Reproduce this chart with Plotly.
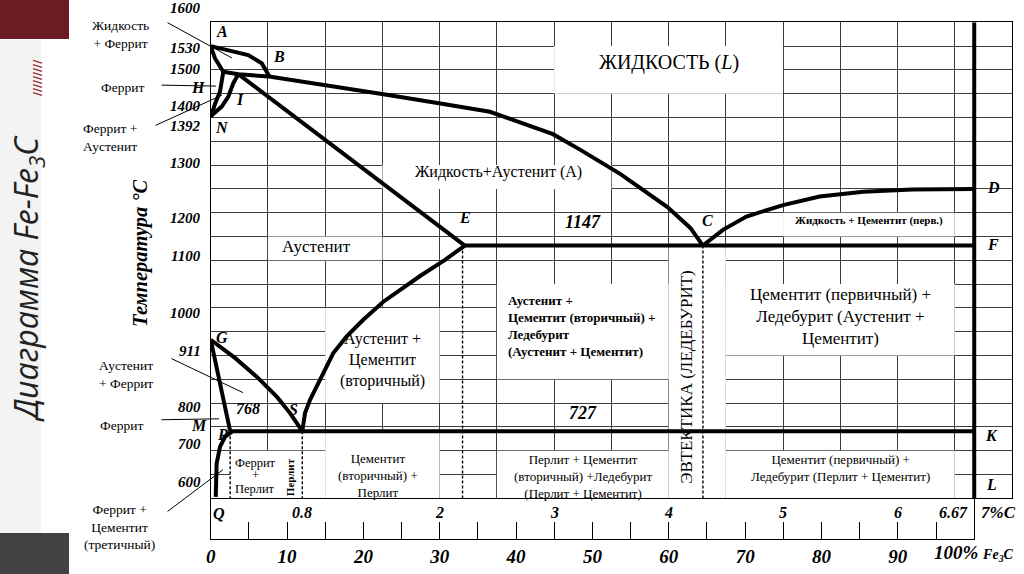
import plotly.graph_objects as go

W, H = 1024, 574

# ---------------- phase-boundary data: carbon content (%C) and temperature (°C) ----------------
ab_c = [0.0, 0.154, 0.328, 0.446, 0.51]
ab_t = [1550, 1542, 1531, 1514, 1487]
ah_c = [0.0, 0.038, 0.11]
ah_t = [1550, 1524, 1496]
hbc_c = [0.11, 0.241, 0.51, 1.02, 1.51, 2.02, 2.44, 2.99, 3.23, 3.58, 3.99, 4.19, 4.3]
hbc_t = [1496, 1491, 1486, 1468, 1449, 1429, 1412, 1365, 1332, 1281, 1212, 1168, 1131]
hn_c = [0.11, 0.096, 0.081, 0.04, 0.0]
hn_t = [1496, 1479, 1454, 1430, 1401]
jn_c = [0.241, 0.197, 0.154, 0.096, 0.01, 0.0]
jn_t = [1491, 1472, 1444, 1423, 1405, 1401]
je_c = [0.241, 2.22]
je_t = [1491, 1131]
ecf_c = [2.22, 6.67]
ecf_t = [1131, 1131]
cd_c = [4.3, 4.475, 4.68, 5.0, 5.32, 5.7, 6.13, 6.67]
cd_t = [1131, 1164, 1192, 1216, 1234, 1244, 1249, 1250]
gs_c = [0.0, 0.212, 0.404, 0.579, 0.693, 0.8]
gs_t = [933, 895, 855, 813, 779, 741]
gp_c = [0.0, 0.17]
gp_t = [933, 741]
pq_c = [0.197, 0.125, 0.081, 0.052, 0.044]
pq_t = [742, 729, 708, 673, 603]
es_c = [0.8, 0.824, 0.868, 0.926, 0.984, 1.071, 1.188, 1.333, 1.508, 1.829, 2.047, 2.22]
es_t = [741, 779, 807, 835, 863, 905, 940, 975, 1013, 1067, 1101, 1131]
psk_c = [0.17, 6.67]
psk_t = [741, 741]
fe3c_c = [6.67, 6.67]
fe3c_t = [590, 1600]
dash_c = [0.17, 0.8, 2.2, 4.3]
dash_top = [741, 741, 1131, 1131]

# ---------------- axis labels ----------------
temp_ticks = [1600, 1530, 1500, 1400, 1392, 1300, 1200, 1100, 1000, 911, 800, 700, 600]
c_ticks = [0.8, 2, 3, 4, 5, 6, 6.67]
c_text = ["0.8", "2", "3", "4", "5", "6", "6.67"]
fe3c_ticks = [0, 10, 20, 30, 40, 50, 60, 70, 80, 90, 100]
fe3c_text = ["0", "10", "20", "30", "40", "50", "60", "70", "80", "90", ""]

# label pixel offsets (style only)
temp_shift = [14, 8, 1, 12, -5, 2, -5, 4, -5, -1, -4, 7, 16]

SERIF = "Liberation Serif"
fig = go.Figure()

X0, X1 = 210.7 / W, 1012 / W
Y0, Y1 = 1 - 498.3 / H, 1 - 22.3 / H
BAND0 = 1 - 539 / H
C_MAX, T_MIN, T_MAX = 7.0, 600.0, 1600.0

thick = [(ab_c, ab_t), (ah_c, ah_t), (hbc_c, hbc_t), (hn_c, hn_t), (jn_c, jn_t),
         (je_c, je_t), (ecf_c, ecf_t), (cd_c, cd_t), (gs_c, gs_t), (gp_c, gp_t),
         (pq_c, pq_t), (es_c, es_t), (psk_c, psk_t), (fe3c_c, fe3c_t)]
for cx, ty in thick:
    fig.add_trace(go.Scatter(x=cx, y=ty, mode="lines", line=dict(color="black", width=4),
                             hoverinfo="skip", showlegend=False, xaxis="x", yaxis="y"))
for c, top in zip(dash_c, dash_top):
    fig.add_trace(go.Scatter(x=[c, c], y=[top, 600], mode="lines",
                             line=dict(color="black", width=1.4, dash="3px,2px"),
                             hoverinfo="skip", showlegend=False))

fig.add_trace(go.Scatter(x=[0, 100], y=[0, 0], mode="lines", line=dict(width=0),
                         hoverinfo="skip", showlegend=False, xaxis="x2", yaxis="y2"))

shapes = []
boxes = [(3.0, 5.0, 1450, 1550), (1.5, 3.5, 1250, 1300), (5.0, 6.5, 1150, 1200),
         (0.5, 1.5, 1100, 1150),
         (2.5, 4.0, 850, 1050), (1.0, 2.0, 800, 1000), (4.0, 4.5, 600, 1131),
         (4.5, 6.5, 900, 1050), (4.5, 6.5, 600, 700), (2.5, 4.0, 600, 700),
         (1.0, 2.0, 600, 741), (0.17, 1.0, 600, 700)]
for c0, c1, t0, t1 in boxes:
    shapes.append(dict(type="rect", xref="x", yref="y", x0=c0, x1=c1, y0=t0, y1=t1,
                       fillcolor="white", line=dict(width=0), layer="between"))
shapes += [
    dict(type="rect", xref="paper", yref="paper", x0=0, x1=41 / W, y0=0.07, y1=0.93,
         fillcolor="#f3f3f3", line=dict(width=0), layer="below"),
    dict(type="rect", xref="paper", yref="paper", x0=0, x1=69 / W, y0=1 - 39 / H, y1=1,
         fillcolor="#6b1b21", line=dict(width=0), layer="below"),
    dict(type="rect", xref="paper", yref="paper", x0=0, x1=69 / W, y0=0, y1=1 - 533 / H,
         fillcolor="#424242", line=dict(width=0), layer="below"),
]

ann = []

def txt(x, y, s, size, bold=False, italic=False, angle=0, xa="center", ya="middle",
        align="center", xs=0, ys=0, xref="x", yref="y", family=SERIF, color="black"):
    # labels lying outside the diagram's ranges are placed in paper units
    if xref == "x" and not (0 <= x <= C_MAX):
        x, xref = X0 + x / C_MAX * (X1 - X0), "paper"
    if yref == "y" and not (T_MIN <= y <= T_MAX):
        y, yref = Y0 + (y - T_MIN) / (T_MAX - T_MIN) * (Y1 - Y0), "paper"
    ann.append(dict(x=x, y=y, text=s, showarrow=False, xref=xref, yref=yref,
                    xanchor=xa, yanchor=ya, align=align, textangle=angle,
                    xshift=xs, yshift=ys,
                    font=dict(family=family, size=size, color=color,
                              weight="bold" if bold else "normal",
                              style="italic" if italic else "normal")))

for t, sh in zip(temp_ticks, temp_shift):
    txt(0, t, str(t), 15, bold=True, italic=True, xa="right", xs=-8, ys=sh)
for c, s in zip(c_ticks, c_text):
    if s == "6.67":
        txt(c, 0.64, s, 16, True, True, xa="right", xs=-4, yref="y2")
    else:
        txt(c, 0.64, s, 16, True, True, yref="y2")
txt(6.88, 0.64, "7%C", 17, True, True, yref="y2")
txt(6.67, 0.64, "100% <span style='font-size:14px'>Fe<sub>3</sub>C</span>", 19, True, True,
    yref="y2", ys=-40)

for s, c, t in [("A", 0.1, 1580), ("B", 0.6, 1529), ("H", -0.11, 1462), ("I", 0.256, 1437),
                ("N", 0.1, 1378), ("G", 0.1, 937), ("P", 0.1, 733), ("S", 0.72, 786),
                ("M", -0.1, 752), ("Q", 0.073, 569), ("E", 2.22, 1189), ("C", 4.34, 1183),
                ("D", 6.834, 1252), ("F", 6.834, 1133), ("K", 6.82, 731), ("L", 6.82, 628)]:
    txt(c, t, s, 16, True, True)
txt(0.326, 788, "768", 16, True, True)
txt(3.25, 1181, "1147", 18, True, True)
txt(3.25, 779, "727", 18, True, True)

txt(4.0, 1516, "ЖИДКОСТЬ (<i>L</i>)", 20)
txt(2.51, 1286, "Жидкость+Аустенит (А)", 16)
txt(0.92, 1130, "Аустенит", 17)
txt(5.75, 1183, "Жидкость + Цементит (перв.)", 11, bold=True)
txt(2.58, 961, "Аустенит +<br>Цементит (вторичный) +<br>Ледебурит<br>(Аустенит + Цементит)",
    13, bold=True, xa="left", align="left")
txt(1.5, 890, "Аустенит +<br>Цементит<br>(вторичный)", 16)
txt(4.155, 856, "ЭВТЕКТИКА (ЛЕДЕБУРИТ)", 17, angle=-90)
txt(5.5, 981, "Цементит (первичный) +<br>Ледебурит (Аустенит +<br>Цементит)", 17)
txt(5.5, 664, "Цементит (первичный) +<br>Ледебурит (Перлит + Цементит)", 13)
txt(3.25, 646, "Перлит + Цементит<br>(вторичный) +Ледебурит<br>(Перлит + Цементит)", 13)
txt(1.46, 647, "Цементит<br>(вторичный) +<br>Перлит", 13)
txt(0.39, 674, "Феррит", 12.5)
txt(0.39, 649, "+", 12.5)
txt(0.39, 620, "Перлит", 12.5)
txt(0.695, 645, "Перлит", 11, bold=True, angle=-90)

txt(-0.79, 1575, "Жидкость<br>+ Феррит", 13.5)
txt(-0.77, 1462, "Феррит", 13.5)
txt(-0.88, 1357, "Феррит +<br>Аустенит", 13.5)
txt(-0.74, 860, "Аустенит<br>+ Феррит", 13.5)
txt(-0.78, 752, "Феррит", 13.5)
txt(-0.8, 540, "Феррит +<br>Цементит<br>(третичный)", 13.5)
txt(-0.62, 1115, "Температура °C", 20.5, True, True, angle=-90)

for (tc, tt), (hc, ht) in [((-0.39, 1601), (0.186, 1525)), ((-0.442, 1468), (0.046, 1466)),
                           ((-0.495, 1382), (0.099, 1447)), ((-0.356, 895), (0.282, 822)),
                           ((-0.443, 765), (0.0725, 767)), ((-0.39, 570), (0.107, 660))]:
    ann.append(dict(x=hc, y=ht, ax=tc, ay=tt, axref="x", ayref="y", xref="x", yref="y",
                    text="", showarrow=True, arrowhead=0, arrowwidth=1, arrowcolor="black",
                    standoff=0, startstandoff=0))

txt(28 / W, 1 - 279 / H, "Диаграмма Fe-Fe<sub>3</sub>C", 32, italic=True, angle=-90,
    xref="paper", yref="paper", family="Open Sans", color="#222")
txt(37 / W, 1 - 78 / H, "/////////", 11, bold=True, angle=-90, xref="paper", yref="paper",
    family="DejaVu Sans", color="#9b2a2a")

axis_common = dict(showline=True, mirror=True, linecolor="black", linewidth=1.2,
                   showgrid=True, gridcolor="#3c3c3c", gridwidth=1, zeroline=False,
                   showticklabels=False, ticks="", automargin=False)
fig.update_layout(
    width=W, height=H, autosize=False, margin=dict(l=0, r=0, t=0, b=0, pad=0),
    paper_bgcolor="white", plot_bgcolor="white", showlegend=False,
    xaxis=dict(domain=[X0, X1], range=[0, C_MAX], dtick=0.5, tick0=0, anchor="y", **axis_common),
    yaxis=dict(domain=[Y0, Y1], range=[T_MIN, T_MAX], dtick=50, tick0=600, anchor="x", **axis_common),
    xaxis2=dict(domain=[X0, X0 + (X1 - X0) * 6.67 / 7], range=[0, 100], anchor="y2",
                showline=True, linecolor="black", linewidth=1.2, showgrid=False, zeroline=False,
                ticks="inside", ticklen=17, tickwidth=1, tickcolor="black", automargin=False,
                tickvals=fe3c_ticks, ticktext=fe3c_text,
                minor=dict(ticks="inside", ticklen=17, tickwidth=1, tickcolor="black",
                           dtick=5, tick0=0),
                tickfont=dict(family=SERIF, size=19, color="black", weight="bold", style="italic")),
    yaxis2=dict(domain=[BAND0, Y0], range=[0, 1], anchor="x2", showline=True, mirror=True,
                linecolor="black", linewidth=1.2, showgrid=False, zeroline=False,
                showticklabels=False, ticks="", automargin=False),
    shapes=shapes, annotations=ann,
)
fig.write_html(
    "out.html",
    config={"responsive": False, "displayModeBar": False},
    post_script=("document.body.style.margin='0';document.body.style.overflow='hidden';"
                 "Plotly.relayout('{plot_id}', {width: 1024, height: 574});"),
)
